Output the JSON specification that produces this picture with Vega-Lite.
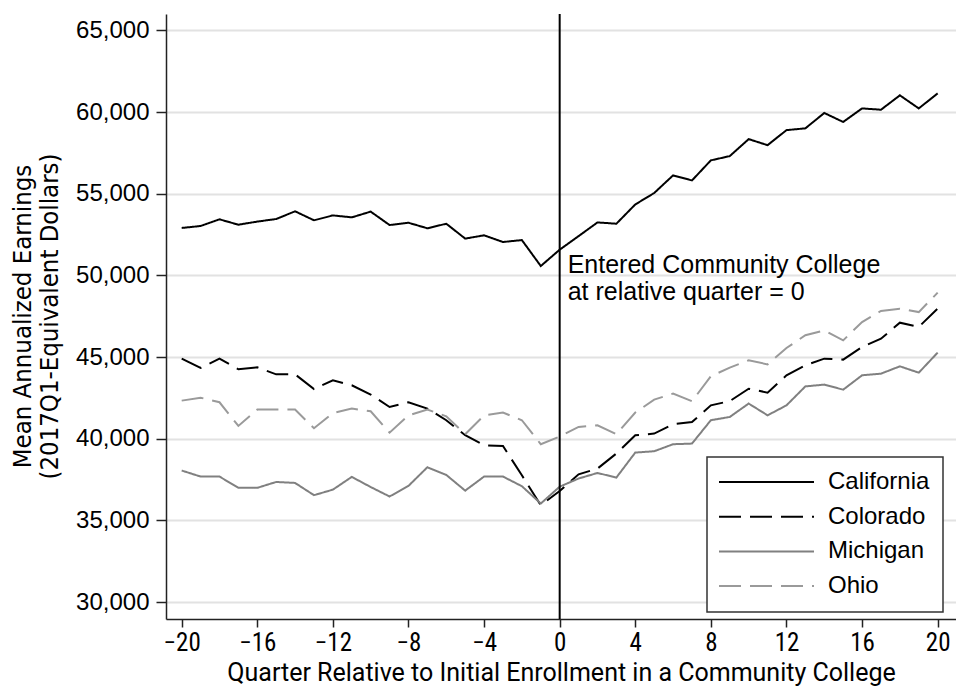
{
  "$schema": "https://vega.github.io/schema/vega-lite/v6.json",
  "width": 790,
  "height": 605,
  "autosize": "none",
  "padding": {"left": 166, "top": 14, "right": 0, "bottom": 69},
  "background": "white",
  "config": {"view": {"stroke": null}, "font": "Liberation Sans", "legend": {"strokeWidth": 1.5}},
  "layer": [
    {
      "data": {"values": [
        {"q": -20, "California": 52900, "Colorado": 44900, "Michigan": 38050, "Ohio": 42330},
        {"q": -19, "California": 53020, "Colorado": 44330, "Michigan": 37680, "Ohio": 42510},
        {"q": -18, "California": 53430, "Colorado": 44900, "Michigan": 37680, "Ohio": 42230},
        {"q": -17, "California": 53100, "Colorado": 44250, "Michigan": 36990, "Ohio": 40780},
        {"q": -16, "California": 53290, "Colorado": 44370, "Michigan": 36990, "Ohio": 41780},
        {"q": -15, "California": 53450, "Colorado": 43940, "Michigan": 37350, "Ohio": 41780},
        {"q": -14, "California": 53920, "Colorado": 43940, "Michigan": 37290, "Ohio": 41780},
        {"q": -13, "California": 53370, "Colorado": 43040, "Michigan": 36540, "Ohio": 40640},
        {"q": -12, "California": 53670, "Colorado": 43570, "Michigan": 36880, "Ohio": 41570},
        {"q": -11, "California": 53550, "Colorado": 43270, "Michigan": 37660, "Ohio": 41840},
        {"q": -10, "California": 53900, "Colorado": 42700, "Michigan": 37040, "Ohio": 41680},
        {"q": -9, "California": 53080, "Colorado": 41940, "Michigan": 36460, "Ohio": 40370},
        {"q": -8, "California": 53220, "Colorado": 42230, "Michigan": 37110, "Ohio": 41430},
        {"q": -7, "California": 52880, "Colorado": 41840, "Michigan": 38250, "Ohio": 41780},
        {"q": -6, "California": 53160, "Colorado": 41130, "Michigan": 37780, "Ohio": 41370},
        {"q": -5, "California": 52250, "Colorado": 40210, "Michigan": 36820, "Ohio": 40270},
        {"q": -4, "California": 52450, "Colorado": 39600, "Michigan": 37680, "Ohio": 41430},
        {"q": -3, "California": 52040, "Colorado": 39550, "Michigan": 37680, "Ohio": 41600},
        {"q": -2, "California": 52160, "Colorado": 37760, "Michigan": 37090, "Ohio": 41130},
        {"q": -1, "California": 50570, "Colorado": 35920, "Michigan": 36030, "Ohio": 39660},
        {"q": 0, "California": 51570, "Colorado": 36800, "Michigan": 37060, "Ohio": 40130},
        {"q": 1, "California": 52400, "Colorado": 37820, "Michigan": 37560, "Ohio": 40720},
        {"q": 2, "California": 53240, "Colorado": 38170, "Michigan": 37900, "Ohio": 40820},
        {"q": 3, "California": 53160, "Colorado": 39090, "Michigan": 37620, "Ohio": 40270},
        {"q": 4, "California": 54340, "Colorado": 40210, "Michigan": 39150, "Ohio": 41600},
        {"q": 5, "California": 55040, "Colorado": 40310, "Michigan": 39230, "Ohio": 42390},
        {"q": 6, "California": 56120, "Colorado": 40880, "Michigan": 39660, "Ohio": 42760},
        {"q": 7, "California": 55810, "Colorado": 41020, "Michigan": 39700, "Ohio": 42290},
        {"q": 8, "California": 57040, "Colorado": 42040, "Michigan": 41130, "Ohio": 43820},
        {"q": 9, "California": 57300, "Colorado": 42300, "Michigan": 41330, "Ohio": 44350},
        {"q": 10, "California": 58340, "Colorado": 43060, "Michigan": 42150, "Ohio": 44800},
        {"q": 11, "California": 57970, "Colorado": 42820, "Michigan": 41430, "Ohio": 44550},
        {"q": 12, "California": 58890, "Colorado": 43880, "Michigan": 42040, "Ohio": 45550},
        {"q": 13, "California": 59000, "Colorado": 44490, "Michigan": 43200, "Ohio": 46330},
        {"q": 14, "California": 59940, "Colorado": 44900, "Michigan": 43310, "Ohio": 46630},
        {"q": 15, "California": 59390, "Colorado": 44840, "Michigan": 43000, "Ohio": 46020},
        {"q": 16, "California": 60220, "Colorado": 45610, "Michigan": 43880, "Ohio": 47140},
        {"q": 17, "California": 60140, "Colorado": 46120, "Michigan": 43980, "Ohio": 47820},
        {"q": 18, "California": 61020, "Colorado": 47100, "Michigan": 44430, "Ohio": 47960},
        {"q": 19, "California": 60220, "Colorado": 46840, "Michigan": 44040, "Ohio": 47750},
        {"q": 20, "California": 61140, "Colorado": 47960, "Michigan": 45270, "Ohio": 48940}
      ]},
      "transform": [{"fold": ["California", "Colorado", "Michigan", "Ohio"], "as": ["state", "earn"]}],
      "mark": {"type": "line", "strokeWidth": 2},
      "encoding": {
        "x": {
          "field": "q", "type": "quantitative",
          "scale": {"domain": [-20.83, 20.97], "nice": false, "zero": false},
          "axis": {
            "values": [-20, -16, -12, -8, -4, 0, 4, 8, 12, 16, 20],
            "title": "Quarter Relative to Initial Enrollment in a Community College",
            "grid": false,
            "domainColor": "#222", "domainWidth": 1.5,
            "tickColor": "#222", "tickWidth": 1.5, "tickSize": 8,
            "labelFont": "Roboto Condensed", "labelFontSize": 25, "labelColor": "black",
            "labelPadding": 3, "labelFlush": false, "labelOverlap": false,
            "titleFont": "Roboto", "titleFontSize": 25, "titleFontWeight": "normal",
            "titleColor": "black", "titlePadding": 5
          }
        },
        "y": {
          "field": "earn", "type": "quantitative",
          "scale": {"domain": [28960, 66000], "nice": false, "zero": false},
          "axis": {
            "values": [30000, 35000, 40000, 45000, 50000, 55000, 60000, 65000],
            "format": ",.0f",
            "grid": true, "gridColor": "#e2e2e2", "gridWidth": 2,
            "domainColor": "#222", "domainWidth": 1.5,
            "tickColor": "#222", "tickWidth": 1.5, "tickSize": 10,
            "labelFont": "Liberation Sans", "labelFontSize": 24, "labelColor": "black", "labelPadding": 7,
            "title": ["Mean Annualized Earnings", "(2017Q1-Equivalent Dollars)"],
            "titleFont": "DejaVu Sans Condensed", "titleFontSize": 25.5, "titleFontWeight": "normal",
            "titleColor": "black", "titleLineHeight": 27,
            "titleX": -144, "titleY": 302, "titleBaseline": "middle", "titleAlign": "center", "titleAngle": -90
          }
        },
        "color": {
          "field": "state", "type": "nominal",
          "scale": {"domain": ["California", "Colorado", "Michigan", "Ohio"], "range": ["#000000", "#000000", "#808080", "#9a9a9a"]},
          "legend": {
            "title": null, "orient": "none", "legendX": 541, "legendY": 443, "direction": "vertical",
            "fillColor": "white", "strokeColor": "#333", "padding": 13,
            "symbolType": "M-1.3,0H8.2", "symbolSize": 400, "symbolStrokeWidth": 2,
            "labelFont": "Liberation Sans", "labelFontSize": 24, "labelColor": "black",
            "labelOffset": 84, "rowPadding": 10.7, "labelLimit": 300
          }
        },
        "strokeDash": {
          "field": "state", "type": "nominal",
          "scale": {"domain": ["California", "Colorado", "Michigan", "Ohio"], "range": [[1, 0], [22, 9], [1, 0], [22, 9]]},
          "legend": {
            "title": null, "orient": "none", "legendX": 541, "legendY": 443, "direction": "vertical",
            "fillColor": "white", "strokeColor": "#333", "padding": 13,
            "symbolType": "M-1.3,0H8.2", "symbolSize": 400, "symbolStrokeWidth": 2,
            "labelFont": "Liberation Sans", "labelFontSize": 24, "labelColor": "black",
            "labelOffset": 84, "rowPadding": 10.7, "labelLimit": 300
          }
        }
      }
    },
    {
      "data": {"values": [{}]},
      "mark": {"type": "rule", "color": "black", "strokeWidth": 2},
      "encoding": {"x": {"datum": 0, "type": "quantitative"}}
    },
    {
      "data": {"values": [{}]},
      "mark": {
        "type": "text", "text": ["Entered Community College", "at relative quarter = 0"],
        "align": "left", "baseline": "middle", "dx": 8, "fontSize": 25, "font": "Liberation Sans",
        "lineHeight": 27, "color": "black"
      },
      "encoding": {"x": {"datum": 0, "type": "quantitative"}, "y": {"datum": 50630, "type": "quantitative"}}
    }
  ]
}
